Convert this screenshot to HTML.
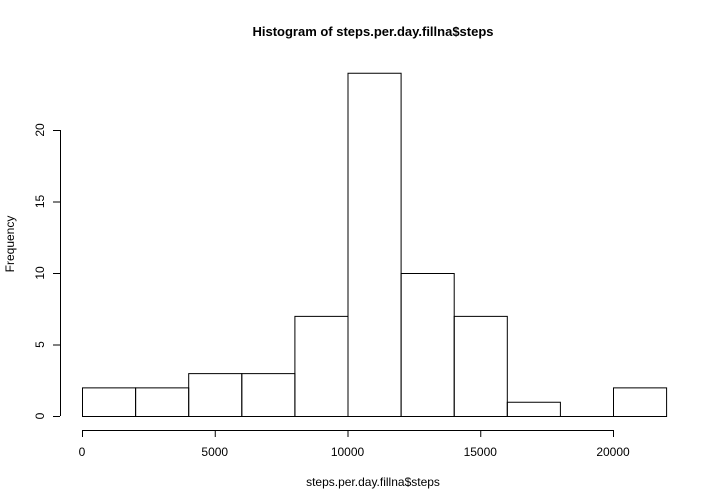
<!DOCTYPE html>
<html><head><meta charset="utf-8"><style>
html,body{margin:0;padding:0;background:#fff}
svg{display:block;font-family:"Liberation Sans",Arial,sans-serif}
</style></head><body>
<svg id="chart" width="720" height="504">
<text x="373" y="36" text-anchor="middle" font-size="13" font-weight="bold">Histogram of steps.per.day.fillna$steps</text>
<text x="373" y="486" text-anchor="middle" font-size="12">steps.per.day.fillna$steps</text>
<text transform="translate(14,244) rotate(-90)" text-anchor="middle" font-size="12">Frequency</text>
<g id="bars"></g><g id="xaxis"></g><g id="yaxis"></g>
</svg>
<script>
const breaks=[0,2000,4000,6000,8000,10000,12000,14000,16000,18000,20000,22000];
const counts=[2,2,3,3,7,24,10,7,1,0,2];
const xTicks=[0,5000,10000,15000,20000];
const yTicks=[0,5,10,15,20];
const NS="http://www.w3.org/2000/svg";
const xs=v=>82+v*(613-82)/20000;
const ys=v=>416-v*(416-130)/20;
function mk(t,a,p){const e=document.createElementNS(NS,t);for(const k in a)e.setAttribute(k,a[k]);p.appendChild(e);return e;}
const bars=document.getElementById('bars');
counts.forEach((c,i)=>{
 const x0=xs(breaks[i])+0.5,x1=xs(breaks[i+1])+0.5,y0=ys(0)+0.5,y1=ys(c)+0.5;
 const r=mk('path',{d:`M${x0},${y0}L${x1},${y0}L${x1},${y1}L${x0},${y1}Z`,fill:'none',stroke:'#000','stroke-width':1},bars);
 
 
});
const xa=document.getElementById('xaxis');


mk('line',{x1:xs(xTicks[0]),x2:xs(xTicks[xTicks.length-1]),y1:430.5,y2:430.5,stroke:'#000'},xa);
xTicks.forEach(t=>{
 mk('line',{x1:xs(t)+0.5,x2:xs(t)+0.5,y1:430,y2:437,stroke:'#000'},xa);
 const tx=mk('text',{x:xs(t),y:456,'text-anchor':'middle','font-size':12},xa);tx.textContent=t;
 
 
});
const ya=document.getElementById('yaxis');


mk('line',{x1:60.5,x2:60.5,y1:ys(yTicks[0]),y2:ys(yTicks[yTicks.length-1]),stroke:'#000'},ya);
yTicks.forEach(t=>{
 mk('line',{x1:53,x2:60,y1:ys(t)+0.5,y2:ys(t)+0.5,stroke:'#000'},ya);
 const tx=mk('text',{transform:`translate(44,${ys(t)}) rotate(-90)`,'text-anchor':'middle','font-size':12},ya);tx.textContent=t;
 
 
});
</script>
</body></html>
